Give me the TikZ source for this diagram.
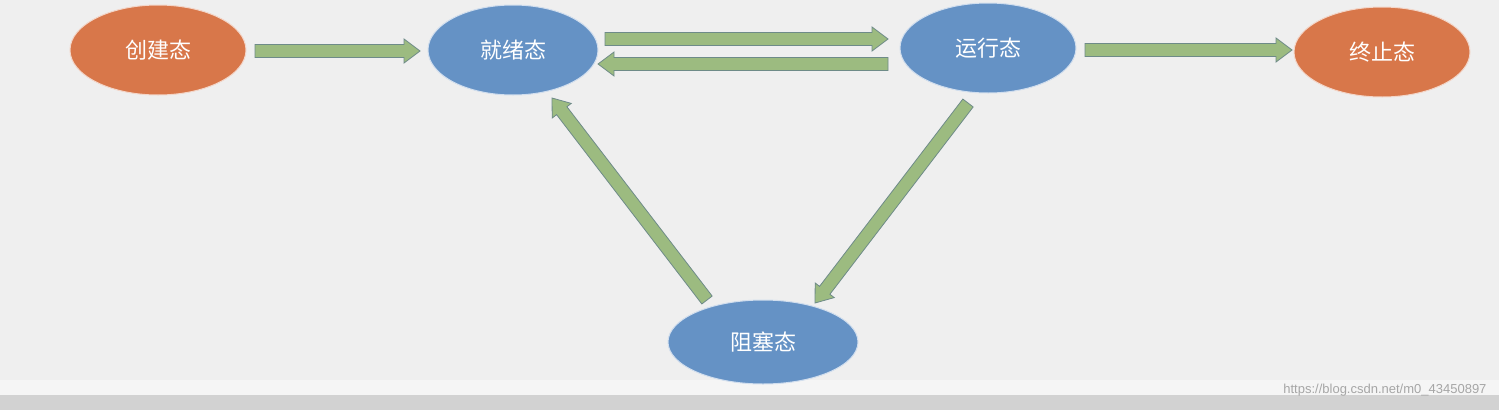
\documentclass[tikz,border=0pt]{standalone}
\usepackage{fontspec}
\newfontfamily\cjk{Noto Sans CJK SC}
\usetikzlibrary{calc,shapes.geometric}
\definecolor{bg}{HTML}{EFEFEF}
\definecolor{org}{HTML}{D8774A}
\definecolor{blu}{HTML}{6592C5}
\definecolor{grn}{HTML}{9CBB80}
\definecolor{grnb}{HTML}{6E8B88}
\tikzset{
  st/.style={ellipse,draw=white!70!#1,line width=1pt,fill=#1,text=white,font=\cjk\fontsize{22}{24}\selectfont,inner sep=0pt},
  blk/.style={fill=grn,draw=grnb,line width=0.8pt,line join=miter}
}
\newcommand{\blockarrow}[2]{%
  \coordinate (hb) at ($(#2)!16pt!(#1)$);
  \draw[blk] ($(#1)!6.5pt!90:(#2)$) -- ($(hb)!6.5pt!90:(#2)$) -- ($(hb)!12pt!90:(#2)$) -- (#2)
    -- ($(hb)!12pt!-90:(#2)$) -- ($(hb)!6.5pt!-90:(#2)$) -- ($(#1)!6.5pt!-90:(#2)$) -- cycle;}
\begin{document}
\begin{tikzpicture}[x=1pt,y=-1pt]
\fill[bg] (0,0) rectangle (1499,410);
\fill[gray!35] (0,395) rectangle (1499,410);
\fill[white!92!gray] (0,380) rectangle (1499,395);
\useasboundingbox (0,0) rectangle (1499,410);
\node[st=org,minimum width=176,minimum height=90] (cj) at (158,50) {创建态};
\node[st=blu,minimum width=170,minimum height=90] (jx) at (513,50) {就绪态};
\node[st=blu,minimum width=176,minimum height=90] (yx) at (988,48) {运行态};
\node[st=org,minimum width=176,minimum height=90] (zz) at (1382,52) {终止态};
\node[st=blu,minimum width=190,minimum height=84] (zs) at (763,342) {阻塞态};
\coordinate (a1) at (255,51); \coordinate (b1) at (420,51);
\coordinate (a2) at (605,39); \coordinate (b2) at (888,39);
\coordinate (a3) at (888,64); \coordinate (b3) at (598,64);
\coordinate (a4) at (1085,50); \coordinate (b4) at (1292,50);
\coordinate (a5) at (968,103); \coordinate (b5) at (815,303);
\coordinate (a6) at (707,300); \coordinate (b6) at (552,98);
\blockarrow{a1}{b1}
\blockarrow{a2}{b2}
\blockarrow{a3}{b3}
\blockarrow{a4}{b4}
\blockarrow{a5}{b5}
\blockarrow{a6}{b6}
\node[anchor=east,text=gray!70,font=\fontspec{Liberation Sans}\fontsize{13}{14}\selectfont] (wm) at (1490,390) {https://blog.csdn.net/m0\_43450897};
\end{tikzpicture}
\end{document}
